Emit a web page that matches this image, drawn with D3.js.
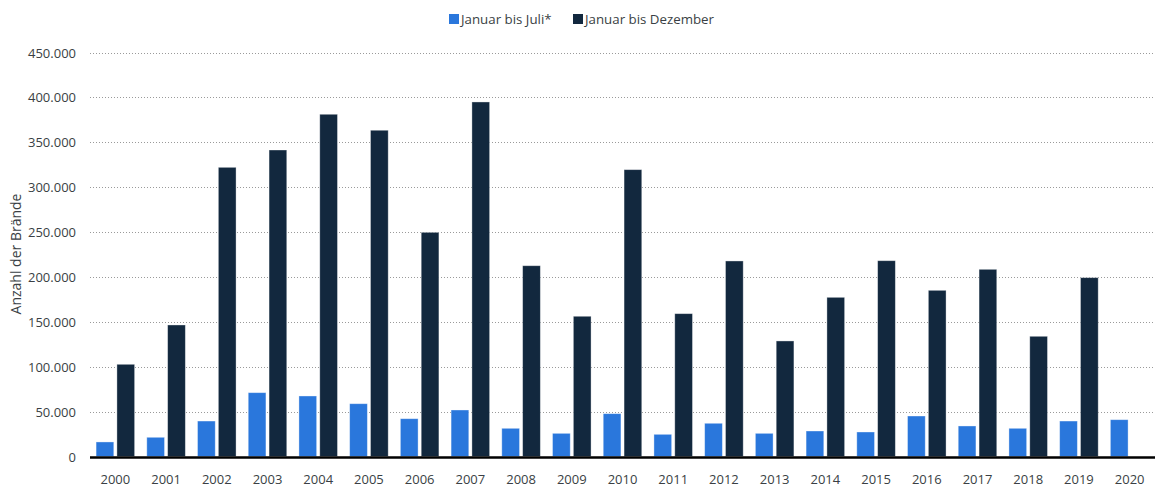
<!DOCTYPE html>
<html>
<head>
<meta charset="utf-8">
<script src="https://cdn.jsdelivr.net/npm/d3@7/dist/d3.min.js"></script>
<style>
  html, body { margin: 0; padding: 0; background: #ffffff; }
  svg { display: block; }
  text { font-family: "Open Sans", "Noto Sans", sans-serif; }
</style>
</head>
<body>
<svg id="chart" width="1156" height="489"></svg>
<script>
const years = ["2000","2001","2002","2003","2004","2005","2006","2007","2008","2009","2010",
               "2011","2012","2013","2014","2015","2016","2017","2018","2019","2020"];
const seriesNames = ["Januar bis Juli*", "Januar bis Dezember"];
const janJul = [16200, 21400, 39500, 71100, 67400, 58800, 42100, 51800, 31400, 25800, 47700,
                24700, 37000, 25800, 28400, 27300, 45100, 34000, 31400, 39500, 41000];
const janDez = [102700, 146500, 322100, 341400, 381200, 363400, 249700, 394900, 212500, 156200, 319500,
                159100, 217800, 128700, 177300, 218100, 185100, 208500, 133900, 199200, null];
const yTicks = [0, 50000, 100000, 150000, 200000, 250000, 300000, 350000, 400000, 450000];
const yTitle = "Anzahl der Brände";
const colors = ["#2a77dc", "#12283e"];

(function () {
const svg = d3.select("#chart");
const pLeft = 90, pRight = 1155, pTop = 52.5, pBottom = 456.5;

const x = d3.scaleBand().domain(years).range([pLeft, pRight]).paddingInner(0.24).paddingOuter(0.12);
const xs = d3.scaleBand().domain([0, 1]).range([0, x.bandwidth()]).paddingInner(0.15);
const y = d3.scaleLinear().domain([0, 450000]).range([pBottom, pTop]);

const fmt = v => d3.format(",")(v).replace(/,/g, ".");

// gridlines
svg.append("g").selectAll("line").data(yTicks.filter(d => d > 0)).join("line")
  .attr("x1", pLeft).attr("x2", 1153)
  .attr("y1", d => Math.round(y(d)) + 0.5).attr("y2", d => Math.round(y(d)) + 0.5)
  .attr("stroke", "#9a9a9a").attr("stroke-width", 1).attr("stroke-dasharray", "1,2");

// y axis labels
const yAxis = d3.axisLeft(y).tickValues(yTicks).tickFormat(fmt).tickSize(0).tickPadding(0);
const gy = svg.append("g").attr("transform", `translate(76,0)`).call(yAxis);
gy.select(".domain").remove();
gy.selectAll("text").attr("font-size", 13).attr("fill", "#3a3f44")
  .attr("font-family", "'Open Sans', sans-serif").attr("dy", "0.35em");

// bars
const data = years.map((yr, i) => ({ yr, vals: [janJul[i], janDez[i]] }));
const groups = svg.append("g").selectAll("g").data(data).join("g")
  .attr("transform", d => `translate(${x(d.yr)},0)`);
groups.selectAll("rect").data(d => d.vals.map((v, k) => ({ v, k })).filter(e => e.v != null)).join("rect")
  .attr("x", e => xs(e.k)).attr("width", xs.bandwidth())
  .attr("y", e => y(e.v)).attr("height", e => y(0) - y(e.v))
  .attr("fill", e => colors[e.k])
  .attr("stroke", "#ffffff").attr("stroke-opacity", 0.45).attr("stroke-width", 0.8);

// x axis
const xAxis = d3.axisBottom(x).tickSize(0).tickPadding(0);
const gx = svg.append("g").attr("transform", `translate(0,${pBottom})`).call(xAxis);
gx.select(".domain").remove();
gx.selectAll("text").attr("font-size", 13).attr("fill", "#3a3f44")
  .attr("font-family", "'Open Sans', sans-serif").attr("y", 18).attr("dy", "0.71em");
svg.append("line").attr("x1", pLeft).attr("x2", pRight)
  .attr("y1", pBottom + 1).attr("y2", pBottom + 1)
  .attr("stroke", "#000").attr("stroke-width", 2.6);

// y title
svg.append("text").attr("transform", `translate(21,254) rotate(-90)`)
  .attr("text-anchor", "middle").attr("font-size", 14).attr("fill", "#3a3f44")
  .text(yTitle);

// legend
const legendX = [449, 573];
const lg = svg.append("g").selectAll("g").data(seriesNames).join("g")
  .attr("transform", (d, i) => `translate(${legendX[i]},14)`);
lg.append("rect").attr("width", 10).attr("height", 10).attr("fill", (d, i) => colors[i]);
lg.append("text").attr("x", 12).attr("y", 5).attr("dy", "0.35em")
  .attr("font-size", 13.3).attr("fill", "#3a3f44").text(d => d);
})();
</script>
</body>
</html>
